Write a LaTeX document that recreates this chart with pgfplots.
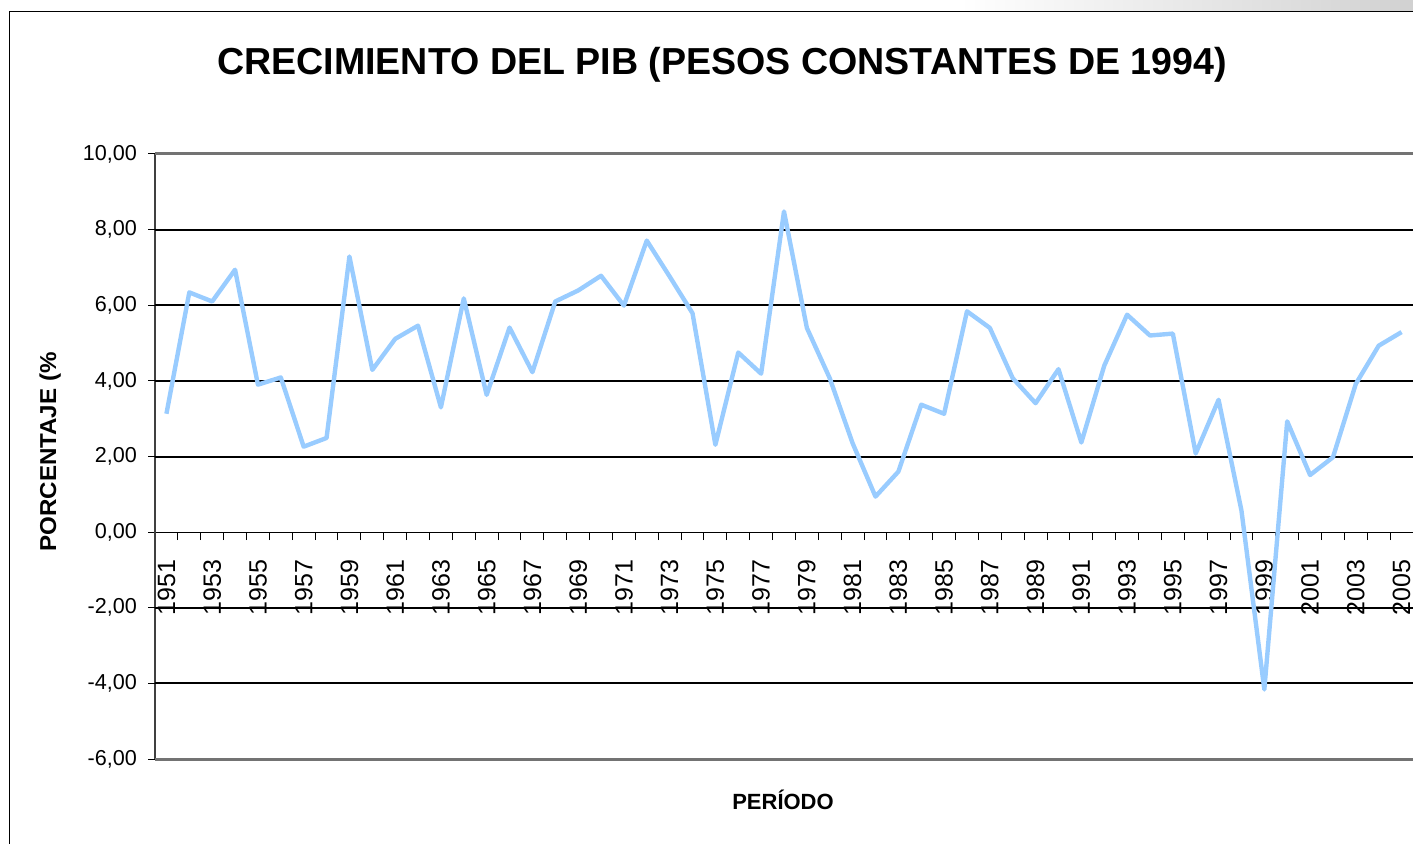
\documentclass[border=0pt]{standalone}
\usepackage{pgfplots}
\pgfplotsset{compat=1.18}
\usepackage{pgfplotstable}
\usepackage{fontspec}
\setmainfont{Liberation Sans}
\definecolor{pibblue}{HTML}{99CCFF}
\pgfplotstableread{
year value
1951 3.13
1952 6.34
1953 6.10
1954 6.94
1955 3.90
1956 4.09
1957 2.26
1958 2.49
1959 7.29
1960 4.29
1961 5.11
1962 5.46
1963 3.30
1964 6.18
1965 3.63
1966 5.41
1967 4.23
1968 6.10
1969 6.39
1970 6.78
1971 5.99
1972 7.71
1973 6.76
1974 5.79
1975 2.31
1976 4.75
1977 4.19
1978 8.48
1979 5.40
1980 4.07
1981 2.35
1982 0.94
1983 1.60
1984 3.37
1985 3.13
1986 5.84
1987 5.40
1988 4.07
1989 3.41
1990 4.31
1991 2.37
1992 4.40
1993 5.75
1994 5.20
1995 5.25
1996 2.08
1997 3.50
1998 0.57
1999 -4.16
2000 2.93
2001 1.51
2002 1.98
2003 3.92
2004 4.93
2005 5.29
}\pibdata
\begin{document}
\begin{tikzpicture}
\useasboundingbox (0,0) rectangle (706.5pt,-422pt);
\shade[left color=white, right color=black!18] (480pt,0pt) rectangle (706.5pt,-5.85pt);
\draw[black, line width=0.6pt] (4.75pt,-430pt) -- (4.75pt,-5.85pt) -- (720pt,-5.85pt);
\begin{axis}[
  at={(77.5pt,-379.5pt)}, anchor=south west,
  scale only axis, width=629pt, height=302.5pt,
  xmin=1950.5, xmax=2005.5, ymin=-6, ymax=10,
  axis x line=middle, axis y line=left,
  axis line style={-},
  x axis line style={black, line width=0.5pt},
  y axis line style={black!75, line width=1pt},
  tick align=outside,
  xtick={1951,1953,...,2005},
  minor xtick={1951.5,1952.5,...,2005.5},
  major x tick style={draw=none},
  minor x tick style={black, line width=0.5pt},
  minor tick length=4pt,
  major tick length=3.5pt,
  ytick={-6,-4,...,10},
  major y tick style={black, line width=0.5pt},
  extra y ticks={-4,-2,2,4,6,8},
  extra y tick labels={},
  extra y tick style={grid=major},
  major grid style={black, line width=1pt},
  /pgf/number format/assume math mode=true,
  xticklabel style={/pgf/number format/1000 sep={}, font=\fontsize{12.5}{12.5}\selectfont, rotate=90, anchor=east, inner sep=0pt},
  xticklabel shift=10pt,
  yticklabel style={/pgf/number format/.cd, fixed, fixed zerofill, precision=2, use comma, /tikz/.cd, font=\fontsize{10.8}{10.8}\selectfont, xshift=-2pt},
  clip=false,
]
\draw[black!55, line width=1.5pt] (axis cs:1950.5,10) -- (axis cs:2005.5,10);
\draw[black!55, line width=1.5pt] (axis cs:1950.5,-6) -- (axis cs:2005.5,-6);
\addplot[pibblue, line width=2.2pt, line join=round, mark=none] table[x=year, y=value] {\pibdata};
\end{axis}
\node[font=\bfseries\fontsize{18.8}{18.8}\selectfont, anchor=base] at (361pt,-37.5pt) {CRECIMIENTO DEL PIB (PESOS CONSTANTES DE 1994)};
\node[font=\bfseries\fontsize{11.5}{11.5}\selectfont, anchor=base, rotate=90] at (28pt,-226pt) {\scalebox{1.05}[1]{PORCENTAJE (\%}};
\node[font=\bfseries\fontsize{11}{11}\selectfont, anchor=base] at (391.5pt,-404.5pt) {PERÍODO};
\end{tikzpicture}
\end{document}
